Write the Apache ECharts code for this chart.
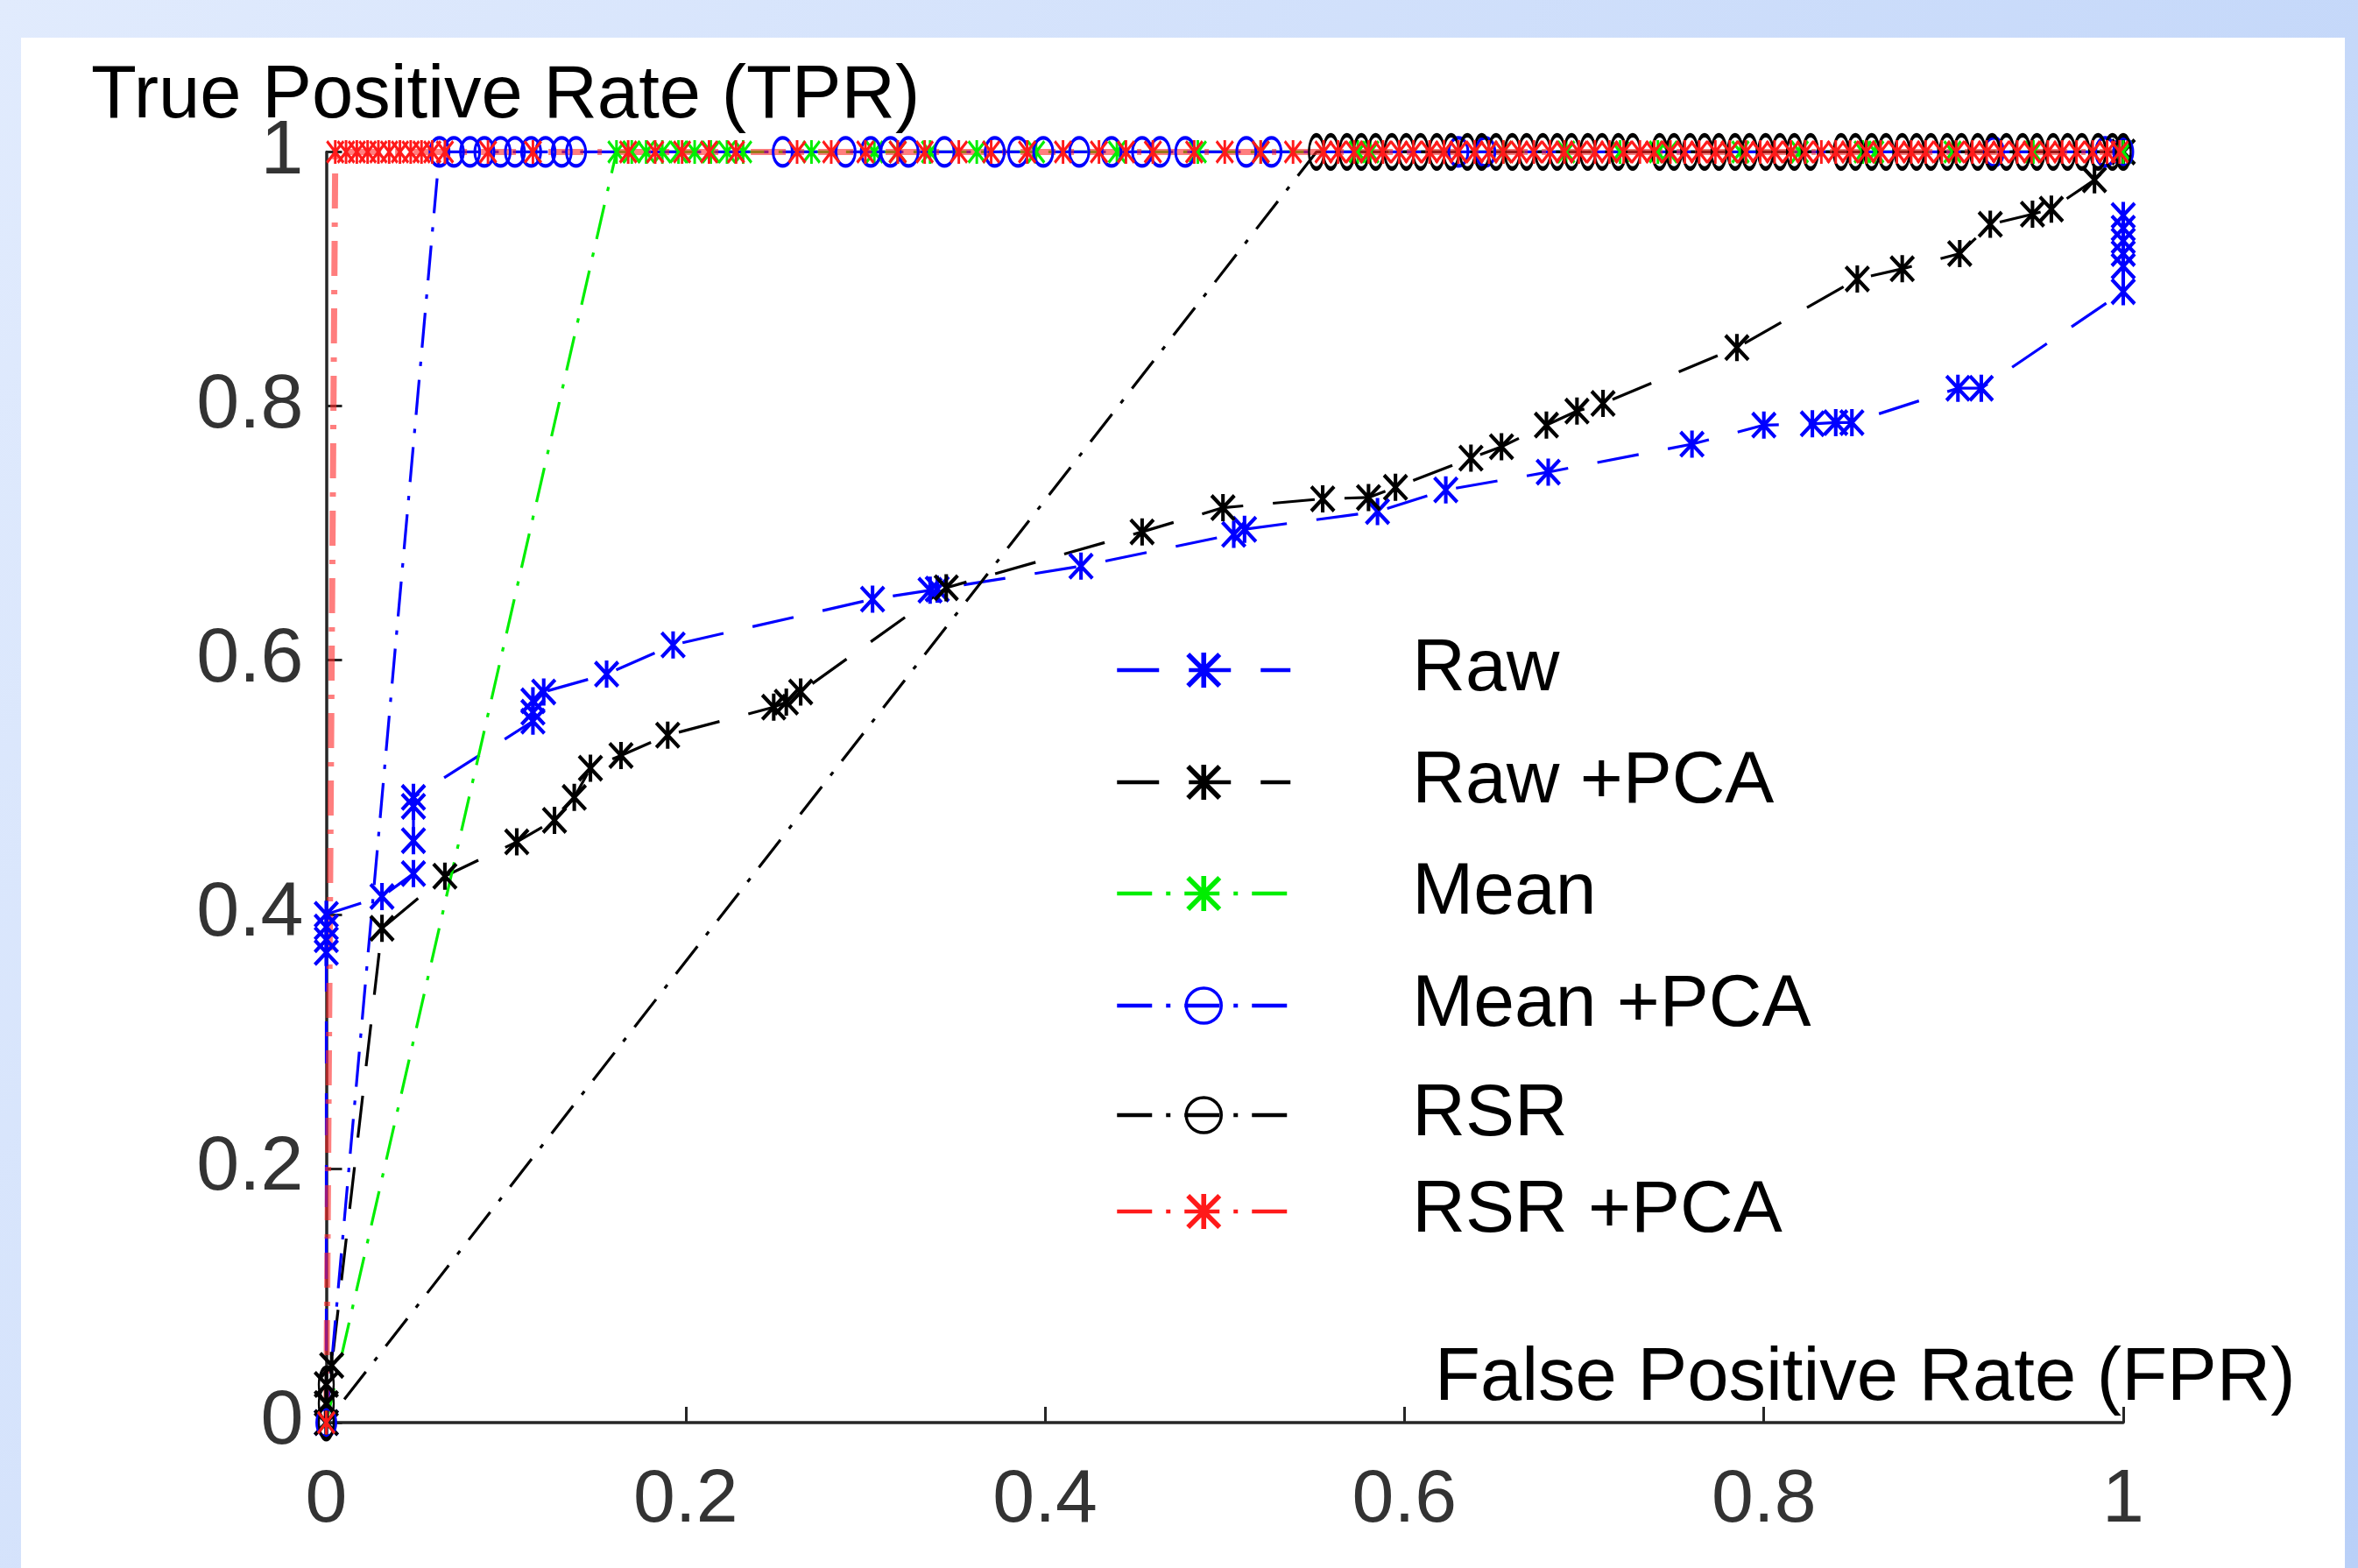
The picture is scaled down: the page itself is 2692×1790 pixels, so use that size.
<!DOCTYPE html>
<html><head><meta charset="utf-8">
<script src="https://cdn.jsdelivr.net/npm/echarts@6/dist/echarts.min.js"></script>
<style>html,body{margin:0;padding:0;overflow:hidden;}#c{width:2692px;height:1790px;}</style>
</head><body><div id="c"></div>
<script>
// ---------- data ----------
const xTickLabels = ['0', '0.2', '0.4', '0.6', '0.8', '1'];
const yTickLabels = ['0', '0.2', '0.4', '0.6', '0.8', '1'];
const seriesNames = ['Raw', 'Raw +PCA', 'Mean', 'Mean +PCA', 'RSR', 'RSR +PCA'];

// [FPR, TPR]
const rawPoints = [
  [0, 0], [0, 0.37], [0, 0.38], [0, 0.39], [0, 0.40], [0.031, 0.414], [0.0485, 0.432], [0.0485, 0.458],
  [0.0485, 0.485], [0.0485, 0.492], [0.115, 0.552], [0.115, 0.559], [0.115, 0.568], [0.121, 0.575],
  [0.156, 0.589], [0.193, 0.612], [0.304, 0.648], [0.336, 0.655], [0.340, 0.656], [0.420, 0.674],
  [0.505, 0.699], [0.511, 0.703], [0.585, 0.717], [0.623, 0.734], [0.680, 0.748], [0.760, 0.770],
  [0.800, 0.785], [0.827, 0.786], [0.840, 0.787], [0.849, 0.787], [0.908, 0.814], [0.921, 0.814],
  [1.0, 0.890], [1.0, 0.910], [1.0, 0.920], [1.0, 0.930], [1.0, 0.940], [1.0, 0.950]
];
const rawPcaPoints = [
  [0, 0], [0, 0.015], [0, 0.03], [0.003, 0.045], [0.031, 0.389], [0.066, 0.430], [0.106, 0.457],
  [0.127, 0.474], [0.138, 0.492], [0.147, 0.515], [0.164, 0.525], [0.190, 0.541], [0.249, 0.563],
  [0.256, 0.567], [0.264, 0.575], [0.345, 0.657], [0.454, 0.701], [0.499, 0.720], [0.5545, 0.727],
  [0.580, 0.728], [0.595, 0.736], [0.637, 0.759], [0.654, 0.768], [0.679, 0.785], [0.696, 0.796],
  [0.7105, 0.802], [0.785, 0.846], [0.852, 0.900], [0.877, 0.908], [0.909, 0.920], [0.926, 0.943],
  [0.9495, 0.951], [0.960, 0.955], [0.984, 0.978], [1.0, 1.0]
];
const meanPoints = [
  [0, 0], [0.1615, 1], [0.170, 1], [0.178, 1], [0.187, 1], [0.196, 1], [0.205, 1], [0.214, 1], [0.223, 1],
  [0.232, 1], [0.270, 1], [0.305, 1], [0.318, 1], [0.336, 1], [0.362, 1], [0.395, 1], [0.440, 1],
  [0.485, 1], [0.520, 1], [0.574, 1], [0.581, 1], [0.655, 1], [0.690, 1], [0.720, 1], [0.741, 1],
  [0.747, 1], [0.781, 1], [0.787, 1], [0.820, 1], [0.855, 1], [0.862, 1], [0.905, 1], [0.950, 1], [1.0, 1]
];
const meanPcaPoints = [
  [0, 0], [0.063, 1], [0.071, 1], [0.080, 1], [0.088, 1], [0.097, 1], [0.105, 1], [0.114, 1], [0.122, 1],
  [0.131, 1], [0.139, 1], [0.254, 1], [0.289, 1], [0.303, 1], [0.314, 1], [0.324, 1], [0.344, 1],
  [0.372, 1], [0.385, 1], [0.399, 1], [0.419, 1], [0.437, 1], [0.454, 1], [0.464, 1], [0.478, 1],
  [0.512, 1], [0.526, 1], [0.630, 1], [0.645, 1], [0.928, 1], [0.990, 1], [1.0, 1]
];
const rsrPoints = [
  [0, 0.03], [0, 0.015], [0, 0],
  [0.551, 1], [0.559, 1], [0.568, 1], [0.576, 1], [0.584, 1], [0.593, 1], [0.601, 1], [0.609, 1], [0.618, 1], [0.626, 1],
  [0.635, 1], [0.643, 1], [0.651, 1], [0.660, 1], [0.668, 1], [0.677, 1], [0.685, 1], [0.693, 1], [0.702, 1], [0.710, 1],
  [0.719, 1], [0.727, 1], [0.742, 1], [0.750, 1], [0.759, 1], [0.767, 1], [0.775, 1], [0.784, 1], [0.792, 1], [0.801, 1],
  [0.809, 1], [0.817, 1], [0.826, 1], [0.843, 1], [0.851, 1], [0.860, 1], [0.868, 1], [0.877, 1], [0.885, 1], [0.893, 1],
  [0.902, 1], [0.910, 1], [0.919, 1], [0.927, 1], [0.935, 1], [0.944, 1], [0.952, 1], [0.961, 1], [0.969, 1], [0.977, 1],
  [0.986, 1], [0.994, 1], [1.0, 1]
];
const rsrPcaPoints = [
  [0, 0],
  [0.005, 1], [0.011, 1], [0.017, 1], [0.023, 1], [0.029, 1], [0.035, 1], [0.041, 1], [0.047, 1], [0.053, 1], [0.059, 1],
  [0.066, 1], [0.090, 1], [0.115, 1], [0.168, 1], [0.183, 1], [0.198, 1], [0.213, 1], [0.228, 1], [0.262, 1], [0.281, 1],
  [0.300, 1], [0.318, 1], [0.333, 1], [0.352, 1], [0.370, 1], [0.390, 1], [0.410, 1], [0.430, 1], [0.445, 1], [0.460, 1],
  [0.483, 1], [0.500, 1], [0.520, 1], [0.538, 1], [0.555, 1], [0.563, 1], [0.572, 1], [0.580, 1], [0.588, 1], [0.597, 1],
  [0.605, 1], [0.614, 1], [0.622, 1], [0.630, 1], [0.639, 1], [0.647, 1], [0.655, 1], [0.664, 1], [0.672, 1], [0.681, 1],
  [0.689, 1], [0.697, 1], [0.706, 1], [0.714, 1], [0.722, 1], [0.731, 1], [0.739, 1], [0.748, 1], [0.756, 1], [0.764, 1],
  [0.773, 1], [0.781, 1], [0.790, 1], [0.798, 1], [0.806, 1], [0.815, 1], [0.823, 1], [0.832, 1], [0.840, 1], [0.848, 1],
  [0.857, 1], [0.865, 1], [0.874, 1], [0.882, 1], [0.890, 1], [0.899, 1], [0.907, 1], [0.916, 1], [0.924, 1], [0.932, 1],
  [0.941, 1], [0.949, 1], [0.958, 1], [0.966, 1], [0.974, 1], [0.983, 1], [0.991, 1], [0.998, 1]
];

// ---------- styles ----------
const FONT = "'Liberation Sans', Arial, Helvetica, sans-serif";
const STAR = 'path://M43 0L57 0L57 100L43 100Z M0 10L10 0L100 90L90 100Z M90 0L100 10L10 100L0 90Z';
const DASH = [48, 34];
const DASHDOT = [40, 16, 5, 16];

const seriesDefs = [
  { data: rawPoints, color: '#0000ff', symbol: STAR, size: [29, 31], dash: DASH, hollow: false },
  { data: rawPcaPoints, color: '#000000', symbol: STAR, size: [29, 31], dash: DASH, hollow: false },
  { data: meanPoints, color: '#00ee00', symbol: STAR, size: [21, 27], dash: DASHDOT, hollow: false },
  { data: meanPcaPoints, color: '#0000ff', symbol: 'circle', size: [22, 32], dash: DASHDOT, hollow: true },
  { data: rsrPoints, color: '#000000', symbol: 'circle', size: [17, 38], dash: DASHDOT, hollow: true },
  { data: rsrPcaPoints, color: '#ff1a1a', symbol: STAR, size: [21, 27], dash: DASHDOT, hollow: false }
];

const legendCenters = [765, 893, 1020, 1148, 1273, 1383];

const series = seriesDefs.map((d, i) => ({
  name: seriesNames[i],
  type: 'line',
  data: d.data,
  symbol: d.symbol,
  symbolSize: d.size,
  showAllSymbol: true,
  clip: false,
  animation: false,
  emphasis: { disabled: true },
  itemStyle: d.hollow
    ? { color: 'rgba(0,0,0,0)', borderColor: d.color, borderWidth: 3.5 }
    : { color: d.color, borderWidth: 0 },
  lineStyle: i === 5
    ? { color: 'rgba(255,40,40,0.6)', width: 7, type: d.dash }
    : { color: d.color, width: 3.2, type: d.dash }
}));

const legends = seriesDefs.map((d, i) => ({
  data: [{ name: seriesNames[i] }],
  left: 1273,
  top: legendCenters[i] - 42,
  padding: 0,
  itemWidth: 198,
  itemHeight: 50,
  selectedMode: false,
  lineStyle: { color: d.color, width: 4.5, type: d.dash },
  itemStyle: d.hollow
    ? { color: 'rgba(0,0,0,0)', borderColor: d.color, borderWidth: 3.5 }
    : { color: d.color, borderWidth: 0 },
  textStyle: { fontSize: 84, color: '#000', fontFamily: FONT, padding: [0, 0, 0, 134] }
}));

const axisCommon = {
  type: 'value', min: 0, max: 1, interval: 0.2,
  axisLine: { show: true, lineStyle: { color: '#262626', width: 3.5 } },
  axisTick: { show: true, inside: true, length: 18, lineStyle: { color: '#262626', width: 3 } },
  splitLine: { show: false }
};

const option = {
  backgroundColor: {
    type: 'linear', x: 0, y: 0, x2: 1, y2: 1,
    colorStops: [{ offset: 0, color: '#e1ebfd' }, { offset: 1, color: '#b9d0f8' }]
  },
  graphic: [{
    type: 'rect', z: -10, silent: true,
    shape: { x: 24, y: 43, width: 2653, height: 1747 },
    style: { fill: '#ffffff' }
  }],
  title: [
    { text: 'True Positive Rate (TPR)', left: 104, top: 68, padding: 0,
      textStyle: { fontSize: 85, fontWeight: 'normal', color: '#000', fontFamily: FONT } },
    { text: 'False Positive Rate (FPR)', left: 1638, top: 1532, padding: 0,
      textStyle: { fontSize: 85, fontWeight: 'normal', color: '#000', fontFamily: FONT } }
  ],
  grid: { left: 372.5, right: 268, top: 173.4, bottom: 166, containLabel: false },
  xAxis: Object.assign({}, axisCommon, {
    axisLabel: { margin: 46, fontSize: 86, color: '#333', fontFamily: FONT,
      formatter: v => xTickLabels[Math.round(v / 0.2)] }
  }),
  yAxis: Object.assign({}, axisCommon, {
    axisLabel: { margin: 26, fontSize: 88, color: '#333', fontFamily: FONT,
      formatter: v => yTickLabels[Math.round(v / 0.2)] }
  }),
  legend: legends,
  series: series
};

const chart = echarts.init(document.getElementById('c'), null, { renderer: 'canvas' });
chart.setOption(option);
</script>
</body></html>
